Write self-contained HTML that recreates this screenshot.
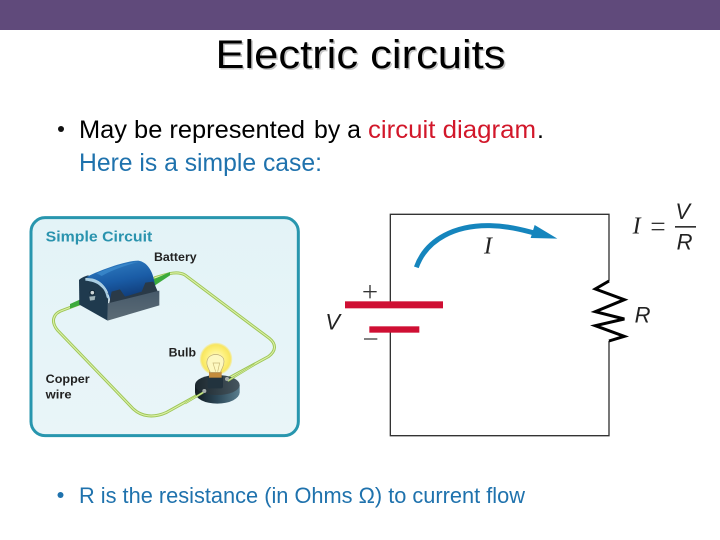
<!DOCTYPE html>
<html><head><meta charset="utf-8"><style>
html,body{margin:0;padding:0;background:#fff}
svg{display:block}
text{font-family:"Liberation Sans",sans-serif}
</style></head><body>
<svg width="720" height="540" viewBox="0 0 720 540" xmlns="http://www.w3.org/2000/svg">
<defs>
<linearGradient id="bg" x1="0" y1="0" x2="0" y2="1"><stop offset="0" stop-color="#e3f3f7"/><stop offset="1" stop-color="#e9f5f8"/></linearGradient>
<linearGradient id="bat" x1="0.3" y1="0" x2="0.6" y2="1"><stop offset="0" stop-color="#2f7cc0"/><stop offset=".45" stop-color="#1a5ca6"/><stop offset="1" stop-color="#0c2f66"/></linearGradient>
<linearGradient id="front" x1="0" y1="0" x2="0" y2="1"><stop offset="0" stop-color="#46596a"/><stop offset="1" stop-color="#5c6c76"/></linearGradient>
<radialGradient id="glow"><stop offset="0" stop-color="#fffbd0"/><stop offset=".6" stop-color="#fdf07a"/><stop offset=".88" stop-color="#f8e660"/><stop offset="1" stop-color="#f8e880" stop-opacity=".35"/></radialGradient>
<linearGradient id="rim" x1="0" y1="0" x2="1" y2="0"><stop offset="0" stop-color="#121a20"/><stop offset=".5" stop-color="#2c4858"/><stop offset="1" stop-color="#5a7e8e"/></linearGradient>
<linearGradient id="base" x1="0" y1="0" x2="1" y2="0"><stop offset="0" stop-color="#1c272e"/><stop offset="1" stop-color="#46565f"/></linearGradient>
</defs>
<rect width="720" height="540" fill="#fff"/>
<rect width="720" height="30" fill="#604a7b"/>

<text x="360.5" y="68" font-size="40" fill="#c4c4c4" text-anchor="middle" textLength="290" lengthAdjust="spacingAndGlyphs" transform="translate(1.5 1.5)">Electric circuits</text>
<text x="360.5" y="68" font-size="40" fill="#000" text-anchor="middle" textLength="290" lengthAdjust="spacingAndGlyphs">Electric circuits</text>

<circle cx="61" cy="129" r="3" fill="#111"/>
<text x="79" y="138" font-size="25" fill="#000" textLength="226" lengthAdjust="spacingAndGlyphs">May be represented</text>
<text x="314" y="138" font-size="25" fill="#000" textLength="47" lengthAdjust="spacingAndGlyphs">by a</text>
<text x="368" y="138" font-size="25" fill="#d2172a" textLength="168" lengthAdjust="spacingAndGlyphs">circuit diagram</text>
<text x="537" y="138" font-size="25" fill="#000">.</text>
<text x="79" y="171" font-size="25" fill="#1f72ad" textLength="243" lengthAdjust="spacingAndGlyphs">Here is a simple case:</text>

<g transform="translate(20 205) scale(.33333)">
<rect x="33" y="38" width="802" height="654" rx="42" fill="url(#bg)" stroke="#2896ae" stroke-width="9"/>
<text x="77" y="110" font-size="43" font-weight="bold" fill="#2a93ae" textLength="320" lengthAdjust="spacingAndGlyphs">Simple Circuit</text>
<text x="402" y="168" font-size="37" font-weight="bold" fill="#222" textLength="128" lengthAdjust="spacingAndGlyphs">Battery</text>
<text x="446" y="454" font-size="37" font-weight="bold" fill="#222" textLength="82" lengthAdjust="spacingAndGlyphs">Bulb</text>
<text x="77" y="534" font-size="37" font-weight="bold" fill="#222" textLength="132" lengthAdjust="spacingAndGlyphs">Copper</text>
<text x="77" y="581" font-size="37" font-weight="bold" fill="#222" textLength="78" lengthAdjust="spacingAndGlyphs">wire</text>

<path d="M405 218 C440 208 470 196 495 210 L748 400 C770 418 768 438 745 455 L625 520 M548 562 L440 622 C400 640 365 635 340 612 L112 375 C92 350 98 325 130 315 L210 285" fill="none" stroke="#9cc655" stroke-width="9" stroke-linecap="round"/>
<path d="M405 218 C440 208 470 196 495 210 L748 400 C770 418 768 438 745 455 L625 520 M548 562 L440 622 C400 640 365 635 340 612 L112 375 C92 350 98 325 130 315 L210 285" fill="none" stroke="#dcefa8" stroke-width="3.5" stroke-linecap="round"/>
</g>

<g transform="translate(70 250) scale(.33333)">
<path d="M0 162 L58 136 L72 150 L0 176 Z" fill="#3cab3c"/>
<path d="M246 90 L300 66 L300 76 L255 106 Z" fill="#3cab3c"/>
<path d="M27 90 C32 84 45 78 55 76 L115 130 L113 212 L28 164 Z" fill="#1f3a4e"/>
<path d="M48 82 C90 60 170 32 205 32 C230 36 248 60 254 100 L262 130 L122 165 C118 110 92 88 48 82 Z" fill="url(#bat)"/>
<path d="M118 158 L125 125 L150 118 L165 140 L215 125 L226 98 L250 95 L264 126 L266 140 L115 178 Z" fill="#2a3a48"/>
<path d="M113 212 L113 160 L268 122 L268 166 Z" fill="url(#front)"/>
<path d="M46 84 C85 82 112 105 118 150 L110 142 C104 112 85 96 46 92 Z" fill="#a9cde2"/>
<path d="M80 70 C120 52 170 38 205 36 C170 45 125 60 95 78 Z" fill="#3f8fd0" opacity=".7"/>
<circle cx="67" cy="128" r="7" fill="#cdd6d8" stroke="#0f2432" stroke-width="3"/>
<path d="M58 140 L76 138 L74 150 L60 152 Z" fill="#9fb3b8"/>
</g>

<g transform="translate(185 335) scale(.33333)">
<ellipse cx="97" cy="172" rx="67" ry="34" fill="url(#rim)"/>
<rect x="30" y="150" width="134" height="22" fill="url(#rim)"/>
<ellipse cx="97" cy="150" rx="67" ry="30" fill="url(#base)"/>
<circle cx="93" cy="72" r="49" fill="url(#glow)"/>
<rect x="68" y="122" width="46" height="38" rx="6" fill="#22333e"/>
<rect x="72" y="110" width="38" height="18" fill="#c48c3c"/>
<path d="M76 112 C68 96 62 86 68 72 C76 54 108 54 116 72 C120 86 112 98 106 112 Z" fill="#fdf8c0" stroke="#b9aa78" stroke-width="2"/>
<path d="M92 110 L84 84 L104 84 L98 110" fill="none" stroke="#c8b878" stroke-width="2"/>
<path d="M128 138 L210 88" stroke="#9cc655" stroke-width="6"/>
<path d="M128 138 L210 88" stroke="#dcefa8" stroke-width="2"/>
<path d="M55 172 L0 205" stroke="#9cc655" stroke-width="6"/>
<path d="M55 172 L0 205" stroke="#dcefa8" stroke-width="2"/>
<circle cx="126" cy="132" r="6" fill="#a4acaa"/>
<circle cx="58" cy="168" r="6" fill="#a4acaa"/>
</g>

<g transform="translate(310 195) scale(.33333)">
<path d="M241 320 V58 H897 V258 M897 438 V722 H241 V410" fill="none" stroke="#333" stroke-width="4"/>
<rect x="105" y="319" width="294" height="21" fill="#cf0f33"/>
<rect x="178" y="394" width="150" height="19" fill="#cf0f33"/>
<path d="M897 258 L856 282 L943 314 L856 350 L943 372 L856 392 L943 424 L897 438" fill="none" stroke="#000" stroke-width="9" stroke-linejoin="miter"/>
<path d="M319 217 C350 130 440 90 540 92 C590 93 630 102 680 116" fill="none" stroke="#1585bd" stroke-width="15"/>
<path d="M674 90 L742 131 L662 129 Z" fill="#1585bd"/>
<rect x="160" y="288" width="40" height="4" fill="#333"/>
<rect x="178" y="270" width="4" height="40" fill="#333"/>
<rect x="162" y="430" width="40" height="4" fill="#444"/>
<text x="46" y="404" font-size="66" font-style="italic" fill="#222">V</text>
<text x="974" y="382" font-size="66" font-style="italic" fill="#222">R</text>
<text x="522" y="176" font-size="72" font-style="italic" fill="#222" style="font-family:'Liberation Serif',serif">I</text>
<text x="968" y="115" font-size="72" font-style="italic" fill="#222" style="font-family:'Liberation Serif',serif">I</text>
<rect x="1025" y="83" width="38" height="4" fill="#333"/>
<rect x="1025" y="102" width="38" height="4" fill="#333"/>
<text x="1096" y="72" font-size="66" font-style="italic" fill="#222">V</text>
<rect x="1095" y="93" width="63" height="5" fill="#333"/>
<text x="1100" y="164" font-size="66" font-style="italic" fill="#222">R</text>
</g>

<circle cx="60.5" cy="495" r="3" fill="#1f72ad"/>
<text x="79" y="503" font-size="22" fill="#1f72ad" textLength="446" lengthAdjust="spacingAndGlyphs">R is the resistance (in Ohms Ω) to current flow</text>
</svg>
</body></html>
